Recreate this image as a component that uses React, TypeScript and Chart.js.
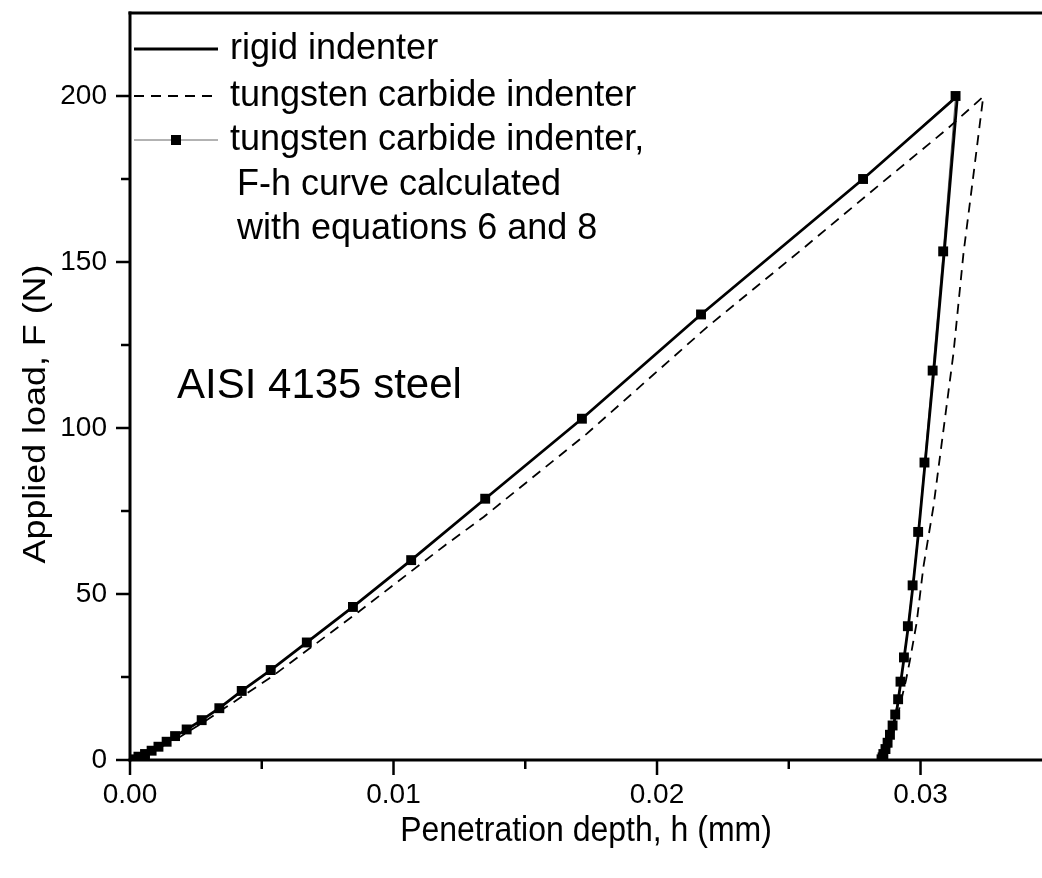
import React, { useEffect, useRef } from "react";
import { Chart, registerables } from "chart.js";

Chart.register(...registerables);

const FONT = '"Liberation Sans", Arial, Helvetica, sans-serif';

// Rigid indenter (solid thick line): loading then unloading
const rigidH = [
  0, 0.00006, 0.00032, 0.00057, 0.00082, 0.00108, 0.00139, 0.00171, 0.00215, 0.00272,
  0.00339, 0.00424, 0.00534, 0.00671, 0.00846, 0.01067, 0.01348, 0.01715, 0.02167, 0.02782,
  0.0314, 0.0309, 0.0305, 0.03018, 0.02993, 0.02972, 0.02954, 0.02938, 0.02925, 0.02912,
  0.02896, 0.0288, 0.02866, 0.02856,
];
const rigidF = [
  0, 0.2, 1.0, 1.8, 2.8, 4.0, 5.5, 7.2, 9.2, 12.0,
  15.6, 20.8, 27.1, 35.4, 46.1, 60.2, 78.7, 102.8, 134.2, 175.0,
  200, 153, 117, 90, 69, 53, 40.5, 31, 23.5, 16,
  10, 5.5, 2.5, 0,
];

// Tungsten carbide indenter (dashed line)
const wcH = [
  0, 0.001, 0.0018, 0.00272, 0.00538, 0.00867, 0.01196, 0.01342, 0.01734, 0.0219,
  0.02544, 0.02848, 0.031, 0.03238, 0.032, 0.03163, 0.03125, 0.03049, 0.03011, 0.02985,
  0.0296, 0.02945, 0.02915, 0.0289, 0.02868,
];
const wcF = [
  0, 3.3, 6.5, 11.0, 25.1, 44.6, 64.7, 73.2, 98.3, 130.4,
  153.4, 173.5, 190.0, 199.8, 175.7, 152.6, 122.5, 76.3, 58.2, 41.2,
  30.1, 24.1, 14, 6, 0,
];

// Tungsten carbide indenter, F-h curve calculated with equations 6 and 8 (markers)
const calcH = [
  0, 0.00006, 0.00032, 0.00057, 0.00082, 0.00108, 0.00139, 0.00171, 0.00215, 0.00272,
  0.00339, 0.00424, 0.00534, 0.00671, 0.00846, 0.01067, 0.01348, 0.01715, 0.02167, 0.02782,
  0.03133, 0.03086, 0.03046, 0.03015, 0.02991, 0.0297, 0.02952, 0.02937, 0.02924, 0.02915,
  0.02904, 0.02894, 0.02884, 0.02875, 0.02867, 0.02859, 0.02856, 0.02852,
];
const calcF = [
  0, 0.2, 1.0, 1.8, 2.8, 4.0, 5.5, 7.2, 9.2, 12.0,
  15.6, 20.8, 27.1, 35.4, 46.1, 60.2, 78.7, 102.8, 134.2, 175.0,
  200, 153.2, 117.3, 89.6, 68.7, 52.6, 40.3, 30.9, 23.6, 18.3,
  13.7, 10.4, 7.6, 5.2, 3.3, 1.8, 0.8, 0.2,
];

const xTicks = [0, 0.005, 0.01, 0.015, 0.02, 0.025, 0.03];
const xLabels = ["0.00", "", "0.01", "", "0.02", "", "0.03"];
const yTicks = [0, 25, 50, 75, 100, 125, 150, 175, 200];
const yLabels = ["0", "", "50", "", "100", "", "150", "", "200"];

const legendLabels = [
  "rigid indenter",
  "tungsten carbide indenter",
  "tungsten carbide indenter,",
  "F-h curve calculated",
  "with equations 6 and 8",
];
const annotation = "AISI 4135 steel";
const xTitle = "Penetration depth, h (mm)";
const yTitle = "Applied load, F (N)";

const toPts = (h: number[], f: number[]) => h.map((v, i) => ({ x: v, y: f[i] }));

const decorPlugin = {
  id: "decor",
  afterDraw(chart: any) {
    const { ctx, chartArea: a, scales } = chart;
    const xs = scales.x;
    const ys = scales.y;
    ctx.save();
    ctx.strokeStyle = "#000";
    ctx.fillStyle = "#000";
    const line = (x1: number, y1: number, x2: number, y2: number) => {
      ctx.beginPath();
      ctx.moveTo(x1, y1);
      ctx.lineTo(x2, y2);
      ctx.stroke();
    };
    // frame
    ctx.lineWidth = 3;
    line(a.left, a.top - 1.5, a.left, a.bottom + 1.5);
    line(a.left - 1.5, a.bottom, a.right, a.bottom);
    line(a.left - 1.5, a.top, a.right, a.top);
    // tick marks
    ctx.lineWidth = 2.5;
    xTicks.forEach((v, i) => {
      const px = xs.getPixelForValue(v);
      const len = xLabels[i] ? 15 : 9;
      line(px, a.bottom, px, a.bottom + len);
    });
    yTicks.forEach((v, i) => {
      const py = ys.getPixelForValue(v);
      const len = yLabels[i] ? 14 : 9;
      line(a.left, py, a.left - len, py);
    });
    // axis titles
    ctx.font = `32px ${FONT}`;
    ctx.textAlign = "center";
    ctx.textBaseline = "middle";
    ctx.save();
    ctx.translate((a.left + a.right) / 2, 831);
    ctx.scale(1, 1.12);
    ctx.fillText(xTitle, 0, 0);
    ctx.restore();
    ctx.save();
    ctx.translate(36, 414);
    ctx.rotate(-Math.PI / 2);
    ctx.scale(1.12, 1);
    ctx.fillText(yTitle, 0, 0);
    ctx.restore();
    // annotation
    ctx.font = `42px ${FONT}`;
    ctx.textAlign = "left";
    ctx.fillText(annotation, 177, 386);
    // legend
    const ds = chart.data.datasets;
    const rows = [49, 96, 140];
    const x1 = a.left + 4;
    const x2 = a.left + 88;
    ctx.lineWidth = ds[1].borderWidth;
    ctx.setLineDash([]);
    line(x1, rows[0], x2, rows[0]);
    ctx.lineWidth = ds[0].borderWidth;
    ctx.setLineDash(ds[0].borderDash);
    line(x1, rows[1], x2, rows[1]);
    ctx.setLineDash([]);
    ctx.lineWidth = 1;
    ctx.strokeStyle = ds[2].borderColor;
    line(x1, rows[2], x2, rows[2]);
    ctx.fillStyle = "#000";
    const s = 10;
    ctx.fillRect((x1 + x2) / 2 - s / 2, rows[2] - s / 2, s, s);
    ctx.font = `36px ${FONT}`;
    ctx.textBaseline = "middle";
    const tx = 230;
    ctx.fillText(legendLabels[0], tx, rows[0]);
    ctx.fillText(legendLabels[1], tx, rows[1]);
    ctx.fillText(legendLabels[2], tx, rows[2]);
    ctx.fillText(legendLabels[3], tx + 7, 185);
    ctx.fillText(legendLabels[4], tx + 7, 229);
    ctx.restore();
  },
};

export default function App() {
  const ref = useRef<HTMLCanvasElement | null>(null);
  useEffect(() => {
    document.body.style.margin = "0";
    const canvas = ref.current!;
    const chart = new Chart(canvas, {
      type: "scatter",
      data: {
        datasets: [
          {
            label: "tungsten carbide indenter",
            data: toPts(wcH, wcF),
            showLine: true,
            borderColor: "#000",
            borderWidth: 1.8,
            borderDash: [10, 7],
            pointRadius: 0,
            fill: false,
          },
          {
            label: "rigid indenter",
            data: toPts(rigidH, rigidF),
            showLine: true,
            borderColor: "#000",
            borderWidth: 2.8,
            pointRadius: 0,
            fill: false,
          },
          {
            label: "tungsten carbide indenter, F-h curve calculated with equations 6 and 8",
            data: toPts(calcH, calcF),
            showLine: true,
            borderColor: "#666",
            borderWidth: 1,
            pointStyle: "rect",
            pointRadius: 7,
            pointBackgroundColor: "#000",
            pointBorderWidth: 0,
            pointBorderColor: "#000",
            fill: false,
          },
        ],
      },
      options: {
        animation: false,
        responsive: false,
        devicePixelRatio: 1,
        layout: { autoPadding: false, padding: { top: 13, right: 0, left: 0, bottom: 0 } },
        plugins: {
          legend: { display: false },
          tooltip: { enabled: false },
        },
        scales: {
          x: {
            type: "linear",
            min: 0,
            max: 0.03461,
            afterBuildTicks: (scale: any) => {
              scale.ticks = xTicks.map((v) => ({ value: v }));
            },
            afterFit: (scale: any) => {
              scale.height = 118;
              scale.paddingLeft = 0;
              scale.paddingRight = 0;
            },
            grid: { display: false, drawTicks: false },
            border: { display: false },
            ticks: {
              autoSkip: false,
              maxRotation: 0,
              padding: 18,
              color: "#000",
              font: { family: FONT, size: 28 },
              callback: (_v: any, i: number) => xLabels[i],
            },
          },
          y: {
            type: "linear",
            min: 0,
            max: 225,
            afterBuildTicks: (scale: any) => {
              scale.ticks = yTicks.map((v) => ({ value: v }));
            },
            afterFit: (scale: any) => {
              scale.width = 130;
              scale.paddingTop = 0;
              scale.paddingBottom = 0;
            },
            grid: { display: false, drawTicks: false },
            border: { display: false },
            ticks: {
              autoSkip: false,
              padding: 23,
              color: "#000",
              font: { family: FONT, size: 28 },
              callback: (_v: any, i: number) => yLabels[i],
            },
          },
        },
      },
      plugins: [decorPlugin],
    });
    return () => chart.destroy();
  }, []);
  return (
    <div style={{ position: "absolute", left: 0, top: 0, width: 1042, height: 878, background: "#fff" }}>
      <canvas ref={ref} width={1042} height={878} style={{ width: 1042, height: 878, display: "block" }} />
    </div>
  );
}
